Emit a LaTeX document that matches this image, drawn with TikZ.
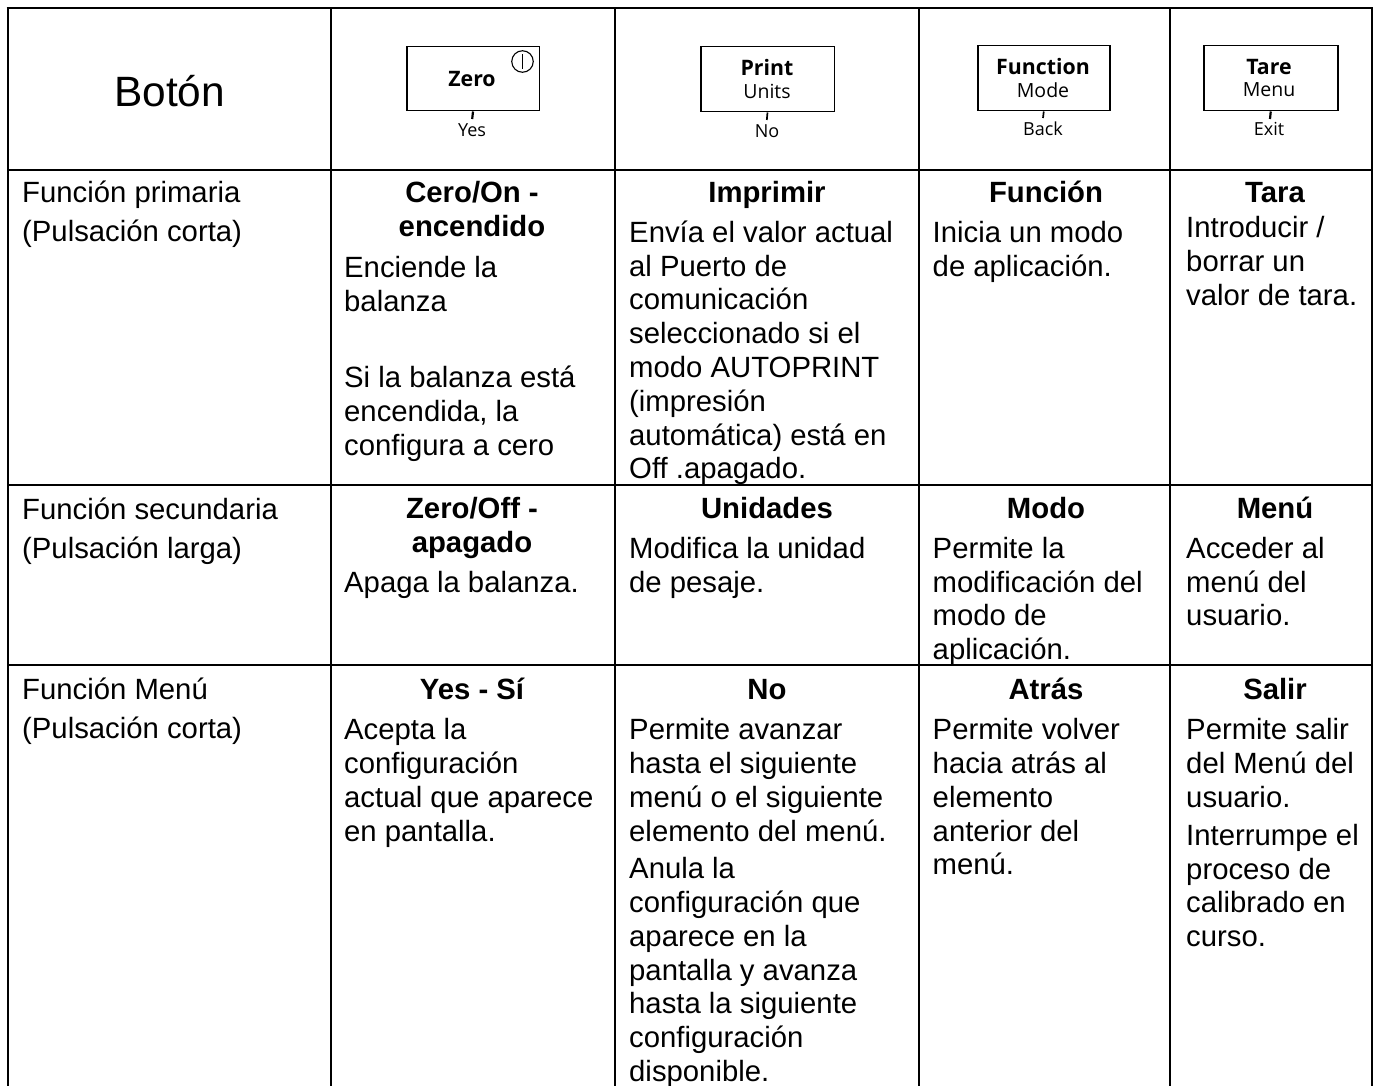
\documentclass[tikz,border=0pt]{standalone}
\usepackage{fontspec}
\usetikzlibrary{calc}
\setmainfont{Liberation Sans}
\newfontfamily\btnfont{Open Sans}
\newcommand{\bodyfont}{\fontsize{29.3}{33.8}\selectfont}
\newcommand{\firststrut}{\rule{0pt}{24pt}}
\tikzset{
  x=1pt,y=-1pt,
  grid/.style={line width=2.2pt,black},
  outer/.style={line width=2.8pt,black},
  parablock/.style={anchor=north west,inner sep=0pt,align=left,font=\bodyfont,text=black},
  labelblock/.style={parablock,font=\fontsize{29.3}{39}\selectfont},
  headblock/.style={anchor=north,inner sep=0pt,align=center,font=\bodyfont\bfseries,text=black},
  btnbox/.style={draw=black,line width=1.5pt,fill=white,inner sep=0pt,anchor=north west},
  btnmain/.style={inner sep=0pt,font=\btnfont\fontsize{21.3}{24}\selectfont\bfseries},
  btnsub/.style={inner sep=0pt,font=\btnfont\fontsize{19.5}{24}\selectfont},
  btnlow/.style={inner sep=0pt,font=\btnfont\fontsize{18}{20}\selectfont},
  tick/.style={line width=2.2pt,black},
}
% name, x, first baseline, text
\newcommand{\para}[4]{\node[parablock] (#1) at (#2,#3-24) {\firststrut #4};}
\newcommand{\head}[4]{\node[headblock] (#1) at (#2,#3-24) {\firststrut #4};}
\begin{document}
\begin{tikzpicture}
\useasboundingbox (0,0) rectangle (1378,1086);
% table rules
\draw[grid] (331,8) -- (331,1086);
\draw[grid] (615,8) -- (615,1086);
\draw[grid] (919,8) -- (919,1086);
\draw[grid] (1170,8) -- (1170,1086);
\draw[grid] (8,8) -- (8,1086);
\draw[grid] (1372,8) -- (1372,1086);
\draw[outer] (6.7,8) -- (1373.3,8);
\draw[grid] (7,170) -- (1373,170);
\draw[grid] (7,485) -- (1373,485);
\draw[grid] (7,665) -- (1373,665);
% header row
\node[anchor=base west,inner sep=0pt,font=\fontsize{42.4}{48}\selectfont] (boton) at (114,107) {Botón};
\node[btnbox,minimum width=132.5pt,minimum height=64pt] (bz) at (406,46) {};
\node[btnmain] (bzt) at (472,79) {Zero};
\node[draw=black,line width=1.1pt,circle,minimum size=21.5pt,inner sep=0pt] (bzc) at (522.5,61.5) {};
\draw[line width=1.1pt] ($(bzc.north)+(0,4)$) -- ($(bzc.south)+(0,-4)$);
\node[btnlow] (bzy) at (472,130) {Yes};
\coordinate (bze) at (472.2,119);
\draw[tick] (bz.south) -- (bze);
\node[btnbox,minimum width=133.5pt,minimum height=65pt] (bp) at (700,46) {};
\node[btnmain] (bpt) at (767,68) {Print};
\node[btnsub] (bpu) at (767,91) {Units};
\node[btnlow] (bpn) at (767,131) {No};
\coordinate (bpe) at (766.8,120);
\draw[tick,line width=1.7pt] (bp.south) -- (bpe);
\node[btnbox,minimum width=132pt,minimum height=65pt] (bf) at (977,45) {};
\node[btnmain] (bft) at (1043,67) {Function};
\node[btnsub] (bfm) at (1043,90) {Mode};
\node[btnlow] (bfb) at (1043,129) {Back};
\coordinate (bfe) at (1043,118);
\draw[tick,line width=1.7pt] (bf.south) -- (bfe);
\node[btnbox,minimum width=134pt,minimum height=65pt] (bt) at (1203,45) {};
\node[btnmain] (btt) at (1269,67) {Tare};
\node[btnsub] (btm) at (1269,90) {Menu};
\node[btnlow] (bte) at (1269,129) {Exit};
\coordinate (bte2) at (1270,119);
\draw[tick] (bt.south) -- (bte2);
% row labels
\node[labelblock] (l1) at (22,178.5) {\firststrut Función primaria\\(Pulsación corta)};
\node[labelblock] (l2) at (22,495) {\firststrut Función secundaria\\(Pulsación larga)};
\node[labelblock] (l3) at (22,675) {\firststrut Función Menú\\(Pulsación corta)};
% row 1
\head{h11}{472}{202}{Cero/On -\\encendido}
\para{p11a}{344}{277}{Enciende la\\balanza}
\para{p11b}{344}{387.5}{Si la balanza está\\encendida, la\\configura a cero}
\head{h12}{767}{202}{Imprimir}
\para{p12}{629}{242}{Envía el valor actual\\al Puerto de\\comunicación\\seleccionado si el\\modo AUTOPRINT\\(impresión\\automática) está en\\Off .apagado.}
\head{h13}{1046}{202}{Función}
\para{p13}{932.5}{242}{Inicia un modo\\de aplicación.}
\head{h14}{1275}{202}{Tara}
\para{p14}{1186}{237.5}{Introducir /\\borrar un\\valor de tara.}
% row 2
\head{h21}{472}{518.5}{Zero/Off -\\apagado}
\para{p21}{344}{592}{Apaga la balanza.}
\head{h22}{767}{518.5}{Unidades}
\para{p22}{629}{558}{Modifica la unidad\\de pesaje.}
\head{h23}{1046}{518.5}{Modo}
\para{p23}{932.5}{558}{Permite la\\modificación del\\modo de\\aplicación.}
\head{h24}{1275}{518.5}{Menú}
\para{p24}{1186}{558}{Acceder al\\menú del\\usuario.}
% row 3
\head{h31}{472}{699}{Yes - Sí}
\para{p31}{344}{739.5}{Acepta la\\configuración\\actual que aparece\\en pantalla.}
\head{h32}{767}{699}{No}
\para{p32a}{629}{739.5}{Permite avanzar\\hasta el siguiente\\menú o el siguiente\\elemento del menú.}
\para{p32b}{629}{878.5}{Anula la\\configuración que\\aparece en la\\pantalla y avanza\\hasta la siguiente\\configuración\\disponible.}
\head{h33}{1046}{699}{Atrás}
\para{p33}{932.5}{739.5}{Permite volver\\hacia atrás al\\elemento\\anterior del\\menú.}
\head{h34}{1275}{699}{Salir}
\para{p34a}{1186}{739.5}{Permite salir\\del Menú del\\usuario.}
\para{p34b}{1186}{845}{Interrumpe el\\proceso de\\calibrado en\\curso.}
\end{tikzpicture}
\end{document}
